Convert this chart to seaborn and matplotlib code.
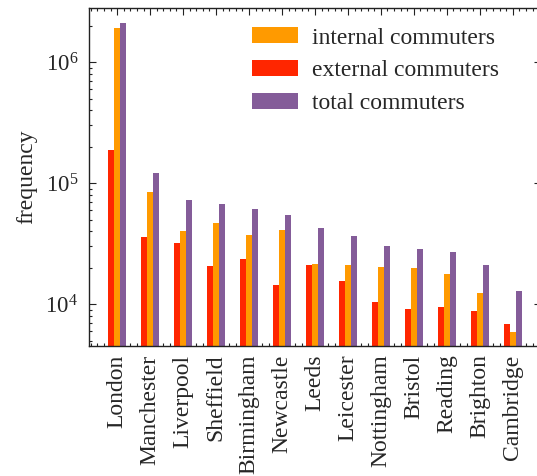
import pandas as pd
import numpy as np
import matplotlib
matplotlib.use("Agg")
import matplotlib.pyplot as plt
import seaborn as sns
from matplotlib.ticker import MultipleLocator, LogLocator, NullFormatter
from matplotlib.patches import Patch

# ====================== data ======================
cities = ["London", "Manchester", "Liverpool", "Sheffield", "Birmingham", "Newcastle",
          "Leeds", "Leicester", "Nottingham", "Bristol", "Reading", "Brighton", "Cambridge"]
external = [1.87e5, 3.56e4, 3.2e4, 2.05e4, 2.34e4, 1.43e4, 2.09e4, 1.56e4, 1.04e4, 9.15e3, 9.4e3, 8.8e3, 6.9e3]
internal = [1.92e6, 8.5e4, 4.04e4, 4.7e4, 3.72e4, 4.06e4, 2.13e4, 2.09e4, 2.01e4, 1.97e4, 1.77e4, 1.23e4, 5.85e3]
total = [2.1e6, 1.22e5, 7.2e4, 6.75e4, 6.07e4, 5.47e4, 4.22e4, 3.65e4, 3.02e4, 2.83e4, 2.72e4, 2.09e4, 1.29e4]

series_names = ["external commuters", "internal commuters", "total commuters"]
colors = {"external commuters": "#ff2600", "internal commuters": "#ff9a00", "total commuters": "#845c99"}

df = pd.DataFrame({
    "city": cities * 3,
    "kind": [series_names[0]] * 13 + [series_names[1]] * 13 + [series_names[2]] * 13,
    "value": external + internal + total,
})

# ====================== style ======================
sns.set_style("white")
plt.rcParams["font.family"] = ["Liberation Serif", "DejaVu Serif"]
plt.rcParams["mathtext.fontset"] = "custom"
plt.rcParams["mathtext.rm"] = "Liberation Serif"
plt.rcParams["mathtext.it"] = "Liberation Serif:italic"

fig = plt.figure(figsize=(5.37, 4.76), dpi=100)
ax = fig.add_axes([0.166, 0.273, 1.007 - 0.166, 0.983 - 0.273])

sns.barplot(data=df, x="city", y="value", hue="kind", hue_order=series_names,
            palette=colors, width=0.54, saturation=1, linewidth=0, errorbar=None,
            ax=ax, legend=False)

ax.set_yscale("log")
ax.set_ylim(4500, 2.8e6)
ax.set_xlim(-0.85, 12.85)

# ticks
ax.xaxis.set_minor_locator(MultipleLocator(0.2))
ax.yaxis.set_major_locator(LogLocator(base=10))
ax.yaxis.set_minor_locator(LogLocator(base=10, subs=np.arange(2, 10)))
ax.yaxis.set_minor_formatter(NullFormatter())
ax.tick_params(which="both", direction="in", top=True, right=True, bottom=True, left=True,
               color="#222222", width=0.8)
ax.tick_params(which="major", length=5)
ax.tick_params(which="minor", length=2.5)
ax.tick_params(axis="y", labelsize=16.5, pad=8)
ax.tick_params(axis="x", labelsize=17, pad=6, labelrotation=90)

for s in ax.spines.values():
    s.set_color("#222222")
    s.set_linewidth(1.0)

ax.set_xlabel("")
ax.set_ylabel("frequency", fontsize=17, labelpad=6)

# legend: internal, external, total
order = ["internal commuters", "external commuters", "total commuters"]
handles = [Patch(facecolor=colors[k], edgecolor="none") for k in order]
ax.legend(handles, order, loc="upper right", bbox_to_anchor=(0.94, 0.985), frameon=False,
          fontsize=17, handlelength=1.95, handleheight=0.65, handletextpad=0.6,
          labelspacing=0.5, borderaxespad=0.2)

fig.savefig("out.png", dpi=100)
